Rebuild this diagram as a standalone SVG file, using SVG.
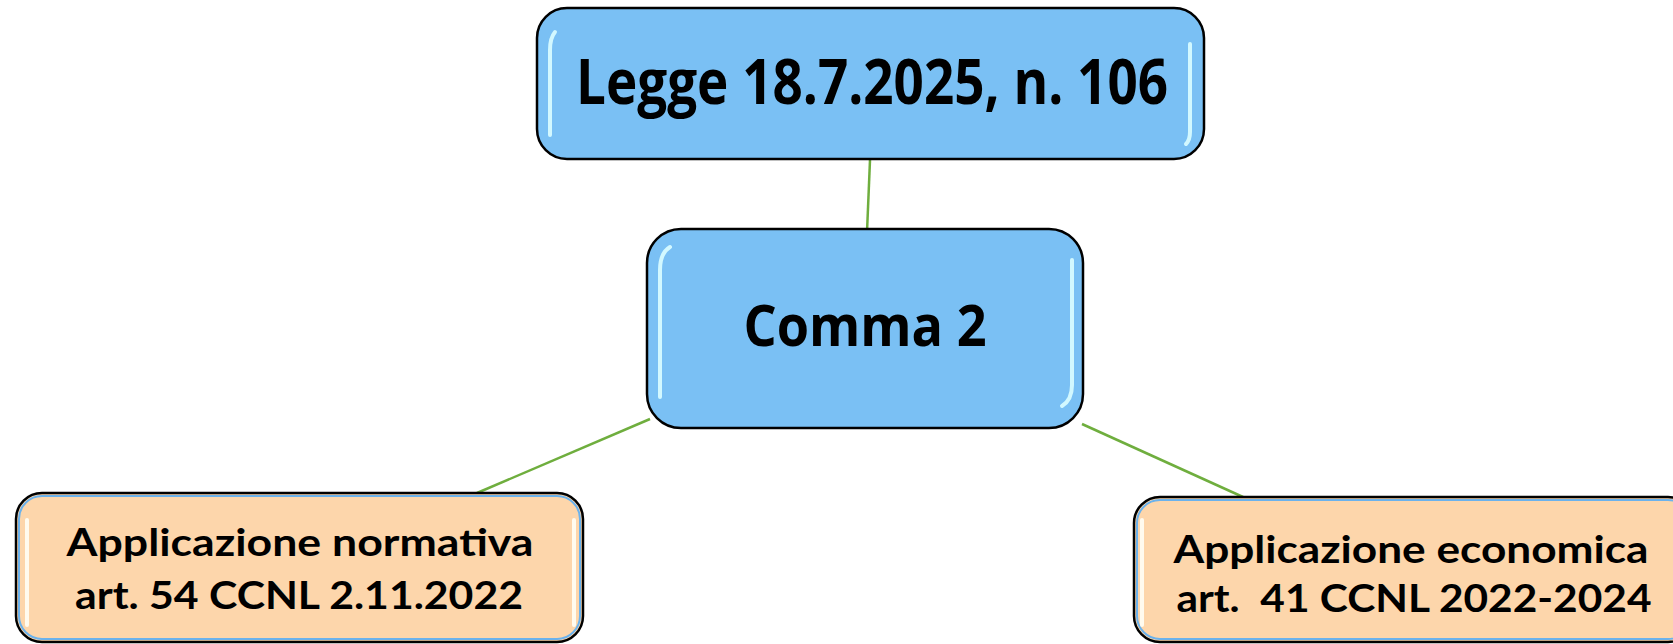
<svg xmlns="http://www.w3.org/2000/svg" width="1673" height="644" viewBox="0 0 1673 644">
<style>
.blue{fill:#7AC0F4;stroke:#000;stroke-width:2.5}
.orange{fill:#FDD6AB;stroke:#000;stroke-width:2.5}
.oinner{fill:none;stroke:#6BB2EC;stroke-width:2}
.hl{fill:none;stroke:#D2F8FF;stroke-width:4;stroke-linecap:round}
.hlo{fill:none;stroke:#FFFBEF;stroke-width:4;stroke-linecap:round}
.conn{stroke:#6FAE3E;stroke-width:2.5;fill:none}
text{font-family:"Open Sans","Liberation Sans",sans-serif;font-weight:700;fill:#000;text-anchor:middle;white-space:pre}
.sm{font-family:Lato,"Open Sans","Liberation Sans",sans-serif;font-size:38px}
</style>
<g id="connectors">
<line class="conn" x1="870" y1="160" x2="867" y2="232"/>
<line class="conn" x1="650" y1="419" x2="477" y2="493"/>
<line class="conn" x1="1082" y1="424" x2="1243" y2="497"/>
</g>
<g id="node-legge">
<rect class="blue" x="537" y="8" width="667" height="151" rx="30"/>
<path class="hl" d="M555 32 Q550 38 550 50 L550 135"/>
<path class="hl" d="M1190 44 L1190 132 Q1190 140 1186 144"/>
<text x="872" y="104" font-size="62" textLength="592" lengthAdjust="spacingAndGlyphs">Legge 18.7.2025, n. 106</text>
</g>
<g id="node-comma">
<rect class="blue" x="647" y="229" width="436" height="199" rx="34"/>
<path class="hl" d="M670 247 Q660 253 660 270 L660 397"/>
<path class="hl" d="M1072 260 L1072 385 Q1072 400 1062 406"/>
<text x="865" y="346" font-size="57" textLength="243" lengthAdjust="spacingAndGlyphs">Comma 2</text>
</g>
<g id="node-normativa">
<rect class="orange" x="16" y="493" width="567" height="149" rx="26"/>
<rect class="oinner" x="19" y="496" width="561" height="143" rx="23"/>
<path class="hlo" d="M27 520 L27 625"/>
<path class="hlo" d="M574 520 L574 625"/>
<text class="sm" x="300" y="556" textLength="467" lengthAdjust="spacingAndGlyphs">Applicazione normativa</text>
<text class="sm" x="299" y="609" textLength="448" lengthAdjust="spacingAndGlyphs">art. 54 CCNL 2.11.2022</text>
</g>
<g id="node-economica">
<rect class="orange" x="1134" y="497" width="560" height="145" rx="26"/>
<rect class="oinner" x="1137" y="500" width="554" height="139" rx="23"/>
<path class="hlo" d="M1142 520 L1142 625"/>
<text class="sm" x="1411" y="563" textLength="475" lengthAdjust="spacingAndGlyphs">Applicazione economica</text>
<text class="sm" x="1414" y="612" textLength="475" lengthAdjust="spacingAndGlyphs" xml:space="preserve">art.  41 CCNL 2022-2024</text>
</g>
</svg>
